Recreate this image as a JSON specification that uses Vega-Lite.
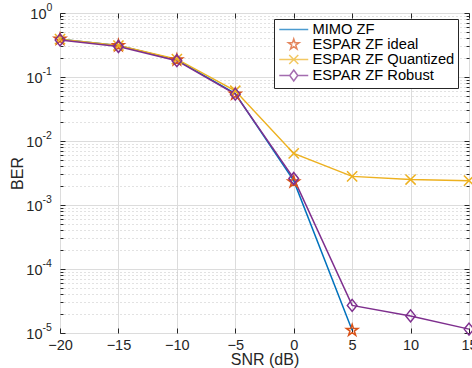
{
  "$schema": "https://vega.github.io/schema/vega-lite/v6.json",
  "width": 409,
  "height": 320,
  "autosize": {"type": "none"},
  "padding": {"left": 60, "top": 13, "right": 3, "bottom": 35},
  "background": "white",
  "config": {
    "font": "Liberation Sans",
    "view": {"stroke": "#262626", "strokeWidth": 1}
  },
  "data": {
    "values": [
      {"snr": -20, "ber": 0.39, "series": "MIMO ZF"},
      {"snr": -15, "ber": 0.31, "series": "MIMO ZF"},
      {"snr": -10, "ber": 0.185, "series": "MIMO ZF"},
      {"snr": -5, "ber": 0.055, "series": "MIMO ZF"},
      {"snr": 0, "ber": 0.0024, "series": "MIMO ZF"},
      {"snr": 5, "ber": 0.000011, "series": "MIMO ZF"},
      {"snr": -20, "ber": 0.39, "series": "ESPAR ZF ideal"},
      {"snr": -15, "ber": 0.31, "series": "ESPAR ZF ideal"},
      {"snr": -10, "ber": 0.185, "series": "ESPAR ZF ideal"},
      {"snr": -5, "ber": 0.054, "series": "ESPAR ZF ideal"},
      {"snr": 0, "ber": 0.0023, "series": "ESPAR ZF ideal"},
      {"snr": 5, "ber": 0.000011, "series": "ESPAR ZF ideal"},
      {"snr": -20, "ber": 0.39, "series": "ESPAR ZF Quantized"},
      {"snr": -15, "ber": 0.31, "series": "ESPAR ZF Quantized"},
      {"snr": -10, "ber": 0.19, "series": "ESPAR ZF Quantized"},
      {"snr": -5, "ber": 0.061, "series": "ESPAR ZF Quantized"},
      {"snr": 0, "ber": 0.0064, "series": "ESPAR ZF Quantized"},
      {"snr": 5, "ber": 0.0028, "series": "ESPAR ZF Quantized"},
      {"snr": 10, "ber": 0.0025, "series": "ESPAR ZF Quantized"},
      {"snr": 15, "ber": 0.0024, "series": "ESPAR ZF Quantized"},
      {"snr": -20, "ber": 0.38, "series": "ESPAR ZF Robust"},
      {"snr": -15, "ber": 0.30, "series": "ESPAR ZF Robust"},
      {"snr": -10, "ber": 0.18, "series": "ESPAR ZF Robust"},
      {"snr": -5, "ber": 0.054, "series": "ESPAR ZF Robust"},
      {"snr": 0, "ber": 0.0026, "series": "ESPAR ZF Robust"},
      {"snr": 5, "ber": 0.000027, "series": "ESPAR ZF Robust"},
      {"snr": 10, "ber": 0.0000185, "series": "ESPAR ZF Robust"},
      {"snr": 15, "ber": 0.0000115, "series": "ESPAR ZF Robust"}
    ]
  },
  "resolve": {
    "scale": {"color": "independent", "shape": "independent"},
    "axis": {"x": "independent", "y": "independent"},
    "legend": {"color": "independent", "shape": "independent"}
  },
  "layer": [
    {
      "transform": [{"filter": "datum.series != 'ESPAR ZF ideal'"}],
      "mark": {"type": "line", "strokeWidth": 1.5},
      "encoding": {
        "x": {
          "field": "snr", "type": "quantitative",
          "scale": {"domain": [-20, 15], "nice": false, "zero": false},
          "axis": {
            "orient": "bottom",
            "values": [-20, -15, -10, -5, 0, 5, 10, 15],
            "title": "SNR (dB)",
            "titleFontSize": 16, "titleFontWeight": "normal", "titleColor": "#262626",
            "titleY": 18, "titleBaseline": "top",
            "labelFontSize": 14.5, "labelColor": "#262626", "labelFlush": false, "labelPadding": 10,
            "grid": true, "gridColor": "#dcdcdc", "gridWidth": 1,
            "domain": false, "tickColor": "#262626", "tickSize": -5
          }
        },
        "y": {
          "field": "ber", "type": "quantitative",
          "scale": {"type": "log", "domain": [0.00001, 1], "nice": false},
          "axis": {
            "orient": "left",
            "values": [0.00001, 0.00002, 0.00003, 0.00004, 0.00005, 0.00006, 0.00007, 0.00008, 0.00009, 0.0001, 0.0002, 0.0003, 0.0004, 0.0005, 0.0006, 0.0007, 0.0008, 0.0009, 0.001, 0.002, 0.003, 0.004, 0.005, 0.006, 0.007, 0.008, 0.009, 0.01, 0.02, 0.03, 0.04, 0.05, 0.06, 0.07, 0.08, 0.09, 0.1, 0.2, 0.3, 0.4, 0.5, 0.6, 0.7, 0.8, 0.9, 1],
            "labelExpr": "indexof([1,0.1,0.01,0.001,0.0001,0.00001], datum.value) >= 0 ? '10' : ''",
            "labelOverlap": false,
            "labelFlush": false,
            "labelFontSize": 14.5, "labelColor": "#262626",
            "labelPadding": {"condition": {"test": "datum.value === 1", "value": 19}, "value": 23},
            "labelOffset": 1,
            "title": "BER",
            "titleFontSize": 16, "titleFontWeight": "normal", "titleColor": "#262626",
            "titleX": -43, "titleY": 160, "titleBaseline": "middle", "titleAlign": "center", "titleAngle": -90,
            "grid": true,
            "gridColor": {"condition": {"test": "indexof([1,0.1,0.01,0.001,0.0001,0.00001], datum.value) >= 0", "value": "#dcdcdc"}, "value": "#c4c4c4"},
            "gridDash": {"condition": {"test": "indexof([1,0.1,0.01,0.001,0.0001,0.00001], datum.value) >= 0", "value": []}, "value": [1, 3]},
            "domain": false, "tickColor": "#262626",
            "tickSize": {"condition": {"test": "indexof([1,0.1,0.01,0.001,0.0001,0.00001], datum.value) >= 0", "value": -5}, "value": -3}
          }
        },
        "color": {
          "field": "series", "type": "nominal",
          "scale": {"domain": ["MIMO ZF", "ESPAR ZF ideal", "ESPAR ZF Quantized", "ESPAR ZF Robust"], "range": ["#0072BD", "#D95319", "#EDB120", "#7E2F8E"]},
          "legend": null
        }
      }
    },
    {
      "transform": [{"filter": "datum.series != 'MIMO ZF'"}],
      "mark": {"type": "point", "filled": false, "strokeWidth": 1.5, "size": 144, "opacity": 1},
      "encoding": {
        "x": {
          "field": "snr", "type": "quantitative",
          "scale": {"domain": [-20, 15], "nice": false, "zero": false},
          "axis": {"orient": "top", "values": [-20, -15, -10, -5, 0, 5, 10, 15], "labels": false, "title": null, "grid": false, "domain": false, "tickColor": "#262626", "tickSize": -5}
        },
        "y": {
          "field": "ber", "type": "quantitative",
          "scale": {"type": "log", "domain": [0.00001, 1], "nice": false},
          "axis": {
            "orient": "right",
            "values": [0.00001, 0.00002, 0.00003, 0.00004, 0.00005, 0.00006, 0.00007, 0.00008, 0.00009, 0.0001, 0.0002, 0.0003, 0.0004, 0.0005, 0.0006, 0.0007, 0.0008, 0.0009, 0.001, 0.002, 0.003, 0.004, 0.005, 0.006, 0.007, 0.008, 0.009, 0.01, 0.02, 0.03, 0.04, 0.05, 0.06, 0.07, 0.08, 0.09, 0.1, 0.2, 0.3, 0.4, 0.5, 0.6, 0.7, 0.8, 0.9, 1],
            "labels": false, "title": null, "grid": false, "domain": false, "tickColor": "#262626",
            "tickSize": {"condition": {"test": "indexof([1,0.1,0.01,0.001,0.0001,0.00001], datum.value) >= 0", "value": -5}, "value": -3}
          }
        },
        "color": {
          "field": "series", "type": "nominal",
          "scale": {"domain": ["MIMO ZF", "ESPAR ZF ideal", "ESPAR ZF Quantized", "ESPAR ZF Robust"], "range": ["#0072BD", "#D95319", "#EDB120", "#7E2F8E"]},
          "legend": null
        },
        "shape": {
          "field": "series", "type": "nominal",
          "scale": {
            "domain": ["MIMO ZF", "ESPAR ZF ideal", "ESPAR ZF Quantized", "ESPAR ZF Robust"],
            "range": [
              "M0,0",
              "M0,-1L0.223,-0.307L0.951,-0.309L0.361,0.117L0.588,0.809L0,0.38L-0.588,0.809L-0.361,0.117L-0.951,-0.309L-0.223,-0.307Z",
              "M-0.85,-0.85L0.85,0.85M-0.85,0.85L0.85,-0.85",
              "M0,-1L0.8,0L0,1L-0.8,0Z"
            ]
          },
          "legend": null
        }
      }
    },
    {
      "transform": [{"filter": "false"}],
      "mark": {"type": "point", "filled": false, "strokeWidth": 1.5},
      "encoding": {
        "x": {"field": "snr", "type": "quantitative", "scale": {"domain": [-20, 15], "nice": false, "zero": false}, "axis": null},
        "y": {
          "field": "ber", "type": "quantitative",
          "scale": {"type": "log", "domain": [0.00001, 1], "nice": false},
          "axis": {
            "orient": "left",
            "values": [0.00001, 0.0001, 0.001, 0.01, 0.1, 1],
            "labelExpr": "datum.value===1?'0':datum.value===0.1?'-1':datum.value===0.01?'-2':datum.value===0.001?'-3':datum.value===0.0001?'-4':'-5'",
            "labelOverlap": false, "labelFlush": false,
            "labelAlign": "left", "labelBaseline": "middle",
            "labelFontSize": 10.5, "labelColor": "#262626",
            "labelPadding": {"condition": {"test": "datum.value === 1", "value": 14}, "value": 18},
            "labelOffset": -6,
            "ticks": false, "tickSize": 0, "grid": false, "domain": false, "title": null
          }
        },
        "color": {
          "field": "series", "type": "nominal",
          "scale": {"domain": ["MIMO ZF", "ESPAR ZF ideal", "ESPAR ZF Quantized", "ESPAR ZF Robust"], "range": ["#0072BD", "#D95319", "#EDB120", "#7E2F8E"]},
          "legend": {
            "title": null, "orient": "none", "legendX": 214, "legendY": 6,
            "fillColor": "white", "strokeColor": "#262626", "padding": 3,
            "symbolSize": 169, "symbolStrokeWidth": 1.5, "symbolFillColor": "transparent",
            "symbolOffset": 9.25,
            "labelFontSize": 14.7, "labelColor": "black", "labelOffset": 11.25, "labelLimit": 300, "rowPadding": -3.5
          }
        },
        "shape": {
          "field": "series", "type": "nominal",
          "scale": {
            "domain": ["MIMO ZF", "ESPAR ZF ideal", "ESPAR ZF Quantized", "ESPAR ZF Robust"],
            "range": [
              "M-2.23,0L2.23,0",
              "M0,-0.85L0.19,-0.26L0.81,-0.263L0.307,0.1L0.5,0.688L0,0.323L-0.5,0.688L-0.307,0.1L-0.81,-0.263L-0.19,-0.26Z",
              "M-2.23,0L2.23,0M-0.7,-0.7L0.7,0.7M-0.7,0.7L0.7,-0.7",
              "M-2.23,0L-0.62,0M0.62,0L2.23,0M0,-0.85L0.62,0L0,0.85L-0.62,0Z"
            ]
          },
          "legend": {
            "title": null, "orient": "none", "legendX": 214, "legendY": 6,
            "fillColor": "white", "strokeColor": "#262626", "padding": 3,
            "symbolSize": 169, "symbolStrokeWidth": 1.5, "symbolFillColor": "transparent",
            "symbolOffset": 9.25,
            "labelFontSize": 14.7, "labelColor": "black", "labelOffset": 11.25, "labelLimit": 300, "rowPadding": -3.5
          }
        }
      }
    }
  ]
}
